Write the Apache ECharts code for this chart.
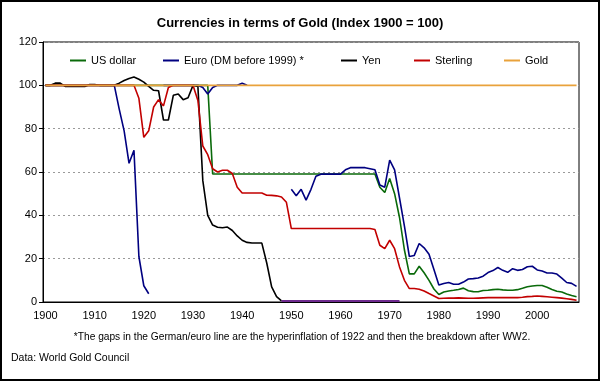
<!DOCTYPE html>
<html><head><meta charset="utf-8">
<script src="https://cdn.jsdelivr.net/npm/echarts@6/dist/echarts.min.js"></script>
<style>html,body{margin:0;padding:0;background:#fff}#c{width:600px;height:381px}</style>
</head><body><div id="c"></div>
<script>
// Categories: years 1900..2008
const years = [];
for (let y = 1900; y <= 2008; y++) years.push(String(y));

// Index values (1900 = 100), one row per decade
const usDollar = [
  100,100,100,100,100,100,100,100,100,100,
  100,100,100,100,100,100,100,100,100,100,
  100,100,100,100,100,100,100,100,100,100,
  100,100,100,100,59.1,59.1,59.1,59.1,59.1,59.1,
  59.1,59.1,59.1,59.1,59.1,59.1,59.1,59.1,59.1,59.1,
  59.1,59.1,59.1,59.1,59.1,59.1,59.1,59.1,59.1,59.1,
  59.1,59.1,59.1,59.1,59.1,59.1,59.1,59.1,53,50.5,
  57,50,39,24,13,13,16.5,13.5,10,6,
  3.5,4.6,5.1,5.4,5.8,6.4,5.2,4.8,4.7,5.3,
  5.4,5.7,5.9,5.6,5.4,5.4,5.7,6.3,7.0,7.4,
  7.6,7.6,6.8,5.8,5.0,4.6,3.7,3.0,2.4
];
const euro = [
  100,100,100,100,100,100,100,100,100,100,
  100,100,100,100,100,89,79,64,70,21,
  7.5,3.8,null,null,100,100,100,100,100,100,
  100,100,99,96,99,100,100,100,100,100,
  101,100,null,null,null,null,null,null,null,null,
  52,49,52,47,52,58,59,59,59,59,
  59,61,62,62,62,62,61.5,61,54,53,
  65.5,61,48,35,21,21.5,27,25,22,15,
  7.8,8.5,9,8.2,8.2,9.2,10.6,10.8,11.1,11.9,
  13.6,14.5,15.9,14.6,13.7,15.4,14.6,15,16.3,16.5,
  14.8,14.3,13.4,13.4,12.9,11,9,8.6,7.2
];
const yen = [
  100,100,101,101,99.5,99.5,99.5,99.5,99.5,100.4,
  100.4,100,100,100,100,101,102.2,103.2,103.8,102.8,
  101.5,99.5,97.7,97.5,84,84,95.4,96,93.4,94.3,
  100,99.5,56,40,35.5,34.5,34.3,34.6,33,30.5,
  28.5,27.5,27.2,27.2,27.2,18,7,2.5,0.5,0.5,
  0.5,0.5,0.5,0.5,0.5,0.5,0.5,0.5,0.5,0.5,
  0.5,0.5,0.5,0.5,0.5,0.5,0.5,0.5,0.5,0.5,
  0.5,0.5,0.5,null,null,null,null,null,null,null,
  null,null,null,null,null,null,null,null,null,null,
  null,null,null,null,null,null,null,null,null,null,
  null,null,null,null,null,null,null,null,null
];
const sterling = [
  100,100,100,100,100,100,100,100,100,100,
  100,100,100,100,100,100,100,100,100,94,
  76,79,90,93.4,90.5,99,100,100,100,100,
  100,93,72,68,61.5,60,60.8,60.8,59.3,53,
  50.3,50.3,50.3,50.3,50.3,49.3,49.2,49,48.5,46,
  33.9,33.9,33.9,33.9,33.9,33.9,33.9,33.9,33.9,33.9,
  33.9,33.9,33.9,33.9,33.9,33.9,33.9,33.5,26.2,24.6,
  28.5,24.6,16.2,10,6.2,6.2,5.9,5.1,3.9,2.8,
  1.6,1.7,1.8,1.8,1.9,1.8,1.7,1.7,1.8,1.9,
  2.0,2.0,2.1,2.0,2.0,2.0,2.0,2.2,2.5,2.6,
  2.8,2.6,2.4,2.2,2.0,1.8,1.5,1.2,0.8
];
const gold = [
  100,100,100,100,100,100,100,100,100,100,
  100,100,100,100,100,100,100,100,100,100,
  100,100,100,100,100,100,100,100,100,100,
  100,100,100,100,100,100,100,100,100,100,
  100,100,100,100,100,100,100,100,100,100,
  100,100,100,100,100,100,100,100,100,100,
  100,100,100,100,100,100,100,100,100,100,
  100,100,100,100,100,100,100,100,100,100,
  100,100,100,100,100,100,100,100,100,100,
  100,100,100,100,100,100,100,100,100,100,
  100,100,100,100,100,100,100,100,100
];
const yTicks = [0, 20, 40, 60, 80, 100, 120];
const POSTWAR = 48; // index of 1948 in years

const font = '"Liberation Sans", Arial, sans-serif';
const colors = {
  usd: '#0a6a0a', euro: '#000080', yen: '#000000', yenPost: '#6e2a8e',
  gbp: '#c20000', gold: '#e9a23b'
};

const yenMain = yen.map((v, i) => i <= POSTWAR ? v : null);
const yenPost = yen.map((v, i) => i >= POSTWAR ? v : null);

function lg(name, left) {
  return {
    data: [name], left: left, top: 55, padding: 0, icon: 'rect',
    itemWidth: 16, itemHeight: 2, itemGap: 0, selectedMode: false,
    textStyle: { fontFamily: font, fontSize: 11, color: '#000' }
  };
}
function line(name, data, color, w) {
  return {
    name: name, type: 'line', data: data, symbol: 'none', showSymbol: false,
    connectNulls: false, silent: true,
    lineStyle: { color: color, width: w || 1.6 }, itemStyle: { color: color }
  };
}

const chart = echarts.init(document.getElementById('c'), null, { renderer: 'canvas' });
chart.setOption({
  animation: false,
  backgroundColor: '#fff',
  textStyle: { fontFamily: font },
  title: {
    text: 'Currencies in terms of Gold (Index 1900 = 100)', left: 'center', top: 12,
    textStyle: { fontFamily: font, fontSize: 13, fontWeight: 'bold', color: '#000' }
  },
  legend: [
    lg('US dollar', 70), lg('Euro (DM before 1999) *', 163), lg('Yen', 341),
    lg('Sterling', 414), lg('Gold', 504)
  ],
  grid: { left: 43, right: 21, top: 42, bottom: 79, show: true, borderColor: '#000', borderWidth: 1 },
  xAxis: {
    type: 'category', data: years, boundaryGap: true,
    axisLine: { lineStyle: { color: '#000', width: 1 } },
    axisTick: { interval: 9, length: 4, lineStyle: { color: '#000' } },
    axisLabel: { interval: 9, color: '#000', fontSize: 11, margin: 8, fontFamily: font },
    splitLine: { show: false }
  },
  yAxis: {
    type: 'value', min: yTicks[0], max: yTicks[yTicks.length - 1], interval: 20,
    axisLine: { show: true, lineStyle: { color: '#000' } },
    axisTick: { show: true, length: 4, lineStyle: { color: '#000' } },
    axisLabel: { color: '#000', fontSize: 11, margin: 6, fontFamily: font },
    splitLine: { lineStyle: { color: '#9a9a9a', type: [2, 3], width: 1 } }
  },
  graphic: [
    { type: 'rect', shape: { x: 1, y: 1, width: 598, height: 379 }, style: { fill: 'none', stroke: '#000', lineWidth: 2 }, silent: true },
    { type: 'text', style: { x: 302, y: 337, text: '*The gaps in the German/euro line are the hyperinflation of 1922 and then the breakdown after WW2.', align: 'center', textAlign: 'center', verticalAlign: 'middle', textVerticalAlign: 'middle', font: '10.2px ' + font, fill: '#000' } },
    { type: 'text', style: { x: 11, y: 358, text: 'Data: World Gold Council', align: 'left', textAlign: 'left', verticalAlign: 'middle', textVerticalAlign: 'middle', font: '10.5px ' + font, fill: '#000' } }
  ],
  series: [
    line('US dollar', usDollar, colors.usd),
    line('Euro (DM before 1999) *', euro, colors.euro),
    line('Yen', yenMain, colors.yen),
    line('Yen (post-war)', yenPost, colors.yenPost, 2),
    line('Sterling', sterling, colors.gbp),
    line('Gold', gold, colors.gold, 1.8)
  ]
});
</script>
</body></html>
